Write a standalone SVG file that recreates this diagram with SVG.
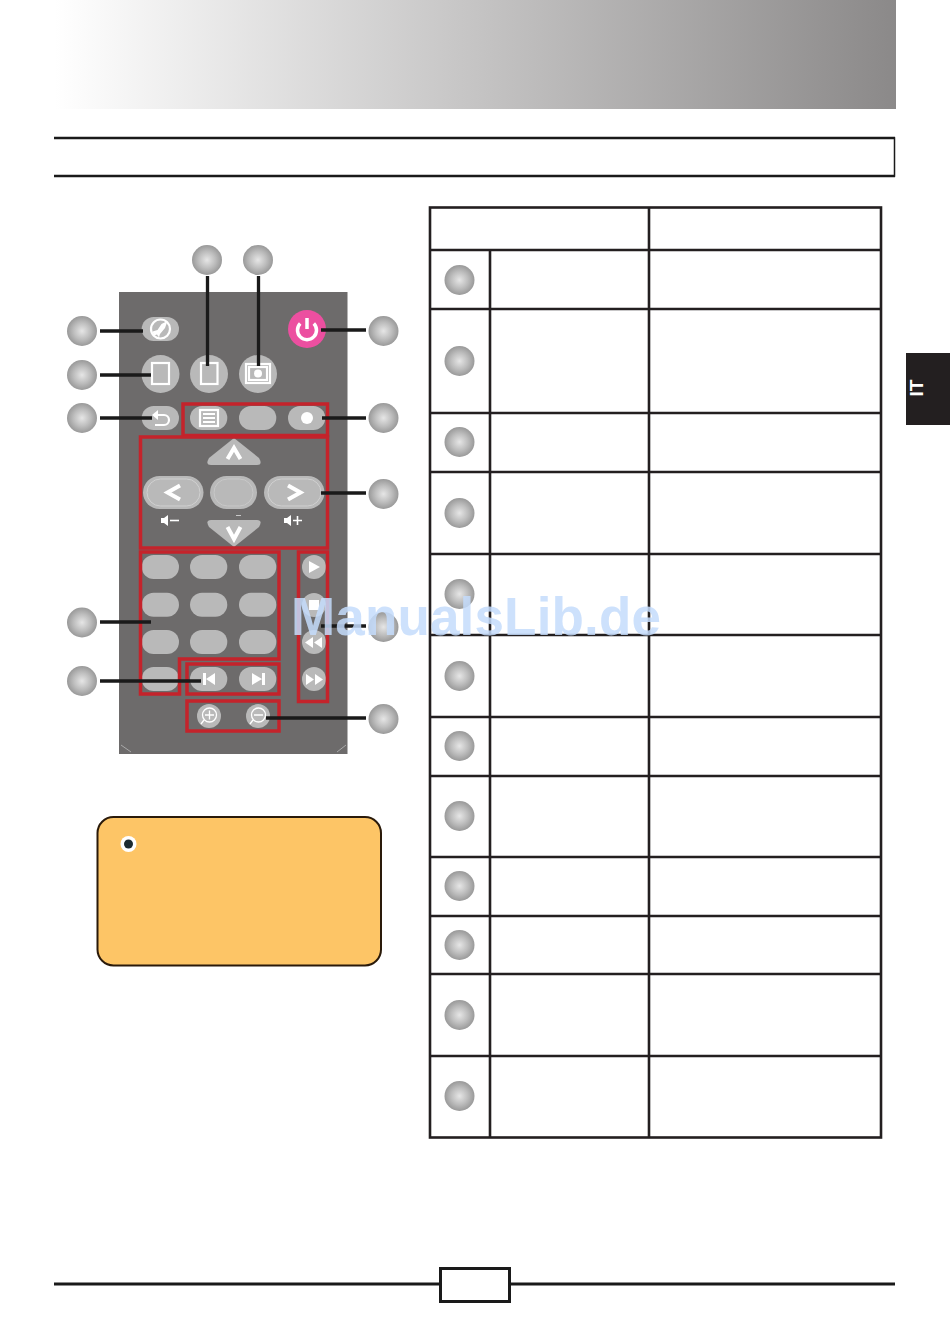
<svg xmlns="http://www.w3.org/2000/svg" width="950" height="1339" viewBox="0 0 950 1339">
<defs>
<linearGradient id="hdr" x1="0" y1="0" x2="1" y2="0"><stop offset="0" stop-color="#fff"/><stop offset="1" stop-color="#8b8989"/></linearGradient>
<radialGradient id="ball" cx=".5" cy=".5" r=".5"><stop offset="0" stop-color="#e6e6e6"/><stop offset=".55" stop-color="#bebebe"/><stop offset="1" stop-color="#999"/></radialGradient>
</defs>
<style>
.ball{fill:url(#ball)}
.btn{fill:#b9b9b9}
.ol{fill:none;stroke:#c4232b;stroke-width:3.500}
.ln{stroke:#1a1a1a;stroke-width:3.300;fill:none}
.tb{stroke:#231f20;stroke-width:2.600;fill:none}
.ic{fill:none;stroke:#fff;stroke-width:2.200}
.ch{fill:none;stroke:#fff;stroke-width:4}
.wf{fill:#fff}
</style>
<rect width="950" height="1339" fill="#fff"/>
<g id="header"><rect x="55" y="0" width="841" height="109" fill="url(#hdr)"/></g>
<g id="title-box">
<path d="M54 138H894.500V176H54" fill="none" stroke="#1a1a1a" stroke-width="1.500"/>
<path d="M54 138H895M54 176H895" fill="none" stroke="#1a1a1a" stroke-width="2.600"/>
</g>
<g id="lang-tab"><rect x="906" y="353" width="44" height="72" fill="#231f20"/>
<text transform="translate(923 388) rotate(-90)" text-anchor="middle" font-family="'Liberation Sans',Arial,sans-serif" font-weight="700" font-size="19" fill="#fff">IT</text></g>

<g id="remote">
<rect x="119" y="292" width="228.500" height="462" fill="#6d6b6b"/>
<path d="M121 745L131 752M346 745L337 752" stroke="#a9a9a9" stroke-width="1" fill="none"/>
<g id="btn-mute"><rect class="btn" x="141.700" y="317" width="37.300" height="24" rx="12"/>
<circle class="ic" cx="160.500" cy="329" r="9.500"/><path class="wf" d="M152.500 331.500l5-1.500 4-6 6-3-2.500 7-5 6-1 3.500-2-3-3 1z"/></g>
<g id="btn-left-square"><circle class="btn" cx="160.500" cy="374" r="19"/><rect class="ic" x="152" y="363" width="17" height="21"/></g>
<g id="btn-mid-square"><circle class="btn" cx="209" cy="374" r="19"/><rect class="ic" x="201" y="363" width="16.500" height="21"/></g>
<g id="btn-display"><circle class="btn" cx="258" cy="374" r="19"/><rect class="ic" x="246" y="364" width="24" height="19" stroke-width="1.300"/><rect class="ic" x="249" y="367" width="18" height="13"/><circle class="wf" cx="258" cy="373.500" r="4"/></g>
<g id="btn-power"><circle cx="307" cy="329" r="19" fill="#ec4fa0"/><path d="M300.200 323.500a9.500 9.500 0 1 0 13.600 0" fill="none" stroke="#fff" stroke-width="3.500"/><path d="M307 318v11" stroke="#fff" stroke-width="3.500"/></g>
<g id="btn-back"><rect class="btn" x="141.700" y="406" width="37.300" height="24" rx="12"/><path class="ic" d="M155 415h9a5 5 0 0 1 0 10h-9"/><path class="wf" d="M152 415l6-5v10z"/></g>
<g id="btn-list"><rect class="btn" x="190" y="406" width="37.300" height="24" rx="12"/><rect class="ic" x="200" y="410" width="18" height="16" stroke-width="1.300"/><path class="ic" d="M203 414h12M203 418h12M203 422h12" stroke-width="1.200"/></g>
<g id="btn-blank"><rect class="btn" x="239" y="406" width="37.300" height="24" rx="12"/></g>
<g id="btn-record"><rect class="btn" x="288" y="406" width="37.300" height="24" rx="12"/><circle class="wf" cx="307" cy="418" r="6"/></g>
<g id="btn-up"><path class="btn" d="M234 438L259 458Q263 465 257 465H211Q205 465 209 458Z"/><path class="ch" d="M227.500 459L234 448L240.500 459"/></g>
<g id="btn-lft"><rect class="btn" x="143" y="476" width="60.500" height="33" rx="16.500"/><rect x="147" y="479" width="53" height="27" rx="13.500" fill="none" stroke="#d0d0d0" stroke-width="1"/><path class="ch" d="M180 485.500L167.500 492.500L180 499.500"/></g>
<g id="btn-ok"><rect class="btn" x="210" y="476" width="47" height="33" rx="16.500"/><rect x="214" y="479" width="39" height="27" rx="13.500" fill="none" stroke="#c8c8c8" stroke-width="1"/></g>
<g id="btn-rgt"><rect class="btn" x="264" y="476" width="60.500" height="33" rx="16.500"/><rect x="268" y="479" width="53" height="27" rx="13.500" fill="none" stroke="#d0d0d0" stroke-width="1"/><path class="ch" d="M288 485.500L300.500 492.500L288 499.500"/></g>
<g id="btn-down"><path class="btn" d="M234 547L259 527Q263 520 257 520H211Q205 520 209 527Z"/><path class="ch" d="M227.500 527L234 539L240.500 527"/></g>
<g id="vol-icons">
<path class="wf" d="M161 518h3l4-3v11l-4-3h-3z"/><path d="M170 520.500h9" stroke="#fff" stroke-width="1.600"/>
<path class="wf" d="M284 518h3l4-3v11l-4-3h-3z"/><path d="M293 520.500h9M297.500 516v9" stroke="#fff" stroke-width="1.600"/>
<path d="M236 515.500h5" stroke="#c9c9c9" stroke-width="1"/>
</g>
<g id="btn-numbers">
<rect class="btn" x="141.700" y="555" width="37.300" height="24" rx="12"/><rect class="btn" x="190" y="555" width="37.300" height="24" rx="12"/><rect class="btn" x="239" y="555" width="37.300" height="24" rx="12"/>
<rect class="btn" x="141.700" y="592.700" width="37.300" height="24" rx="12"/><rect class="btn" x="190" y="592.700" width="37.300" height="24" rx="12"/><rect class="btn" x="239" y="592.700" width="37.300" height="24" rx="12"/>
<rect class="btn" x="141.700" y="630" width="37.300" height="24" rx="12"/><rect class="btn" x="190" y="630" width="37.300" height="24" rx="12"/><rect class="btn" x="239" y="630" width="37.300" height="24" rx="12"/>
<rect class="btn" x="141.700" y="667" width="37.300" height="24" rx="12"/>
</g>
<g id="btn-prev"><rect class="btn" x="190" y="667" width="37.300" height="24" rx="12"/><path class="wf" d="M203 673h3v12h-3zM215 673v12l-9-6z"/></g>
<g id="btn-next"><rect class="btn" x="239" y="667" width="37.300" height="24" rx="12"/><path class="wf" d="M252 673v12l10-6zM262 673h3v12h-3z"/></g>
<g id="btn-play"><circle class="btn" cx="314" cy="567" r="12"/><path class="wf" d="M309 561l11 6-11 6z"/></g>
<g id="btn-stop"><circle class="btn" cx="314" cy="605" r="12"/><rect class="wf" x="309" y="600" width="10" height="10"/></g>
<g id="btn-rew"><circle class="btn" cx="314" cy="642" r="12"/><path class="wf" d="M313 637v11l-8-5.500zM322 637v11l-8-5.500z"/></g>
<g id="btn-ff"><circle class="btn" cx="314" cy="679" r="12"/><path class="wf" d="M306 674v11l8-5.500zM315 674v11l8-5.500z"/></g>
<g id="btn-zoomin"><circle class="btn" cx="209" cy="716" r="12"/><circle cx="209.500" cy="715" r="7" fill="none" stroke="#fff" stroke-width="1.300"/><path d="M205 715h9M209.500 710.500v9M204 720l-3 4" stroke="#fff" stroke-width="1.300" fill="none"/></g>
<g id="btn-zoomout"><circle class="btn" cx="258" cy="716" r="12"/><circle cx="258.500" cy="715" r="7" fill="none" stroke="#fff" stroke-width="1.300"/><path d="M254 715h9M253 720l-3 4" stroke="#fff" stroke-width="1.300" fill="none"/></g>
<g id="outlines">
<rect class="ol" x="183" y="404" width="144.500" height="31.500"/>
<rect class="ol" x="140.500" y="437" width="187" height="111"/>
<path class="ol" d="M140.500 552H279V659H179.500V694H140.500Z"/>
<rect class="ol" x="187" y="664" width="92" height="30"/>
<rect class="ol" x="187" y="701" width="92" height="30"/>
<rect class="ol" x="298.500" y="552" width="29" height="149.500"/>
</g>
</g>

<g id="connectors">
<path class="ln" d="M100 331H143M100 375H151M100 418H152M100 622H151M100 681H201M207.500 276V366M258.500 276V366M321 330H366M322 418H366M321 493H366M321 626H366M266 718H366"/>
</g>

<g id="callouts">
<circle id="c-mute" class="ball" cx="82" cy="331" r="15"/>
<circle id="c-left" class="ball" cx="82" cy="375" r="15"/>
<circle id="c-back" class="ball" cx="82" cy="418" r="15"/>
<circle id="c-num" class="ball" cx="82" cy="622.500" r="15"/>
<circle id="c-prev" class="ball" cx="82" cy="681" r="15"/>
<circle id="c-top1" class="ball" cx="207" cy="260" r="15"/>
<circle id="c-top2" class="ball" cx="258" cy="260" r="15"/>
<circle id="c-power" class="ball" cx="383.500" cy="331" r="15"/>
<circle id="c-menu" class="ball" cx="383.500" cy="418" r="15"/>
<circle id="c-nav" class="ball" cx="383.500" cy="494" r="15"/>
<circle id="c-trans" class="ball" cx="383.500" cy="627" r="15"/>
<circle id="c-zoom" class="ball" cx="383.500" cy="719" r="15"/>
</g>

<g id="note">
<rect x="97.500" y="817" width="283.500" height="148.500" rx="16" fill="#fdc566" stroke="#2a1a0a" stroke-width="2"/>
<circle cx="128.500" cy="844" r="8" fill="#fff"/><circle cx="128.500" cy="844" r="4.500" fill="#1c2a30"/>
</g>

<g id="table">
<rect class="tb" x="430" y="207.500" width="451" height="930"/>
<path class="tb" d="M649 207.500V1137.500M490 250V1137.500M430 250H881M430 309H881M430 413H881M430 472H881M430 554H881M430 635H881M430 717H881M430 776H881M430 857H881M430 916H881M430 974H881M430 1056H881"/>
<circle class="ball" cx="459.500" cy="280" r="15"/>
<circle class="ball" cx="459.500" cy="361" r="15"/>
<circle class="ball" cx="459.500" cy="442" r="15"/>
<circle class="ball" cx="459.500" cy="513" r="15"/>
<circle class="ball" cx="459.500" cy="594" r="15"/>
<circle class="ball" cx="459.500" cy="676" r="15"/>
<circle class="ball" cx="459.500" cy="746" r="15"/>
<circle class="ball" cx="459.500" cy="816" r="15"/>
<circle class="ball" cx="459.500" cy="886" r="15"/>
<circle class="ball" cx="459.500" cy="945" r="15"/>
<circle class="ball" cx="459.500" cy="1015" r="15"/>
<circle class="ball" cx="459.500" cy="1096" r="15"/>
</g>

<g id="footer">
<path d="M54 1284H895" stroke="#1a1a1a" stroke-width="3"/>
<rect x="440.500" y="1268.500" width="69" height="33" fill="#fff" stroke="#1a1a1a" stroke-width="3"/>
</g>

<text id="watermark" x="291" y="635" font-family="'Liberation Sans',Arial,sans-serif" font-weight="700" font-size="53" letter-spacing=".15" fill="#c4dcfb" fill-opacity=".85">ManualsLib.de</text>
</svg>
